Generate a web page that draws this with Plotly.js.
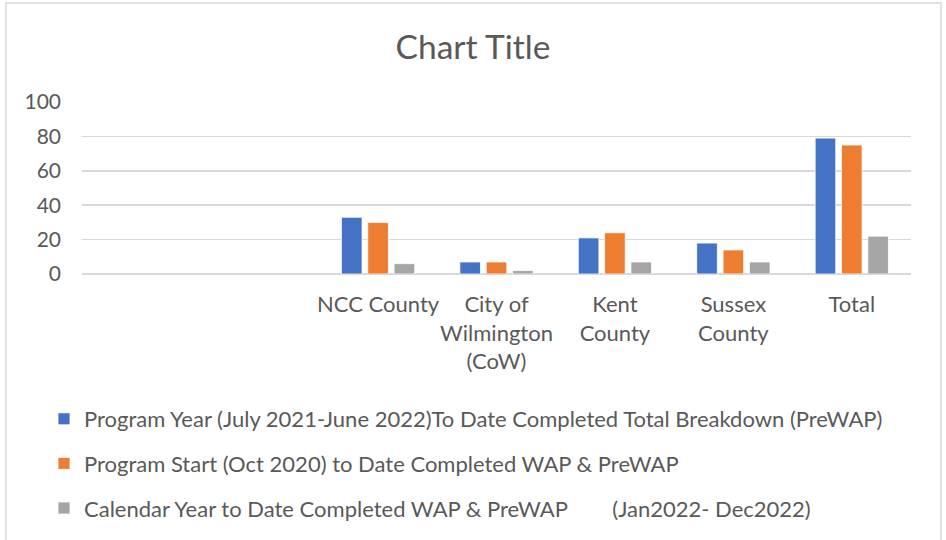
<!DOCTYPE html>
<html>
<head>
<meta charset="utf-8">
<script src="https://cdn.plot.ly/plotly-3.0.1.min.js"></script>
<style>html,body{margin:0;padding:0;background:#fff;}#chart{width:946px;height:540px;}</style>
</head>
<body>
<div id="chart"></div>
<script>
const categories = ["NCC County", "City of<br>Wilmington<br>(CoW)", "Kent<br>County", "Sussex<br>County", "Total"];
const seriesNames = [
  "Program Year (July 2021-June 2022)To Date Completed Total Breakdown (PreWAP)",
  "Program Start (Oct 2020) to Date Completed WAP & PreWAP",
  "Calendar Year to Date Completed WAP & PreWAP        (Jan2022- Dec2022)"
];
const programYear = [33, 7, 21, 18, 79];
const programStart = [30, 7, 24, 14, 75];
const calendarYear = [6, 2, 7, 7, 22];
const colors = ["#4472C4", "#ED7D31", "#A5A5A5"];
const yTicks = [0, 20, 40, 60, 80, 100];

const font = "Lato, 'Open Sans', sans-serif";
const textColor = "#595959";
const seriesValues = [programYear, programStart, calendarYear];

const traces = seriesValues.map((vals, i) => ({
  type: "bar",
  name: seriesNames[i],
  x: categories,
  y: vals,
  marker: {color: colors[i], line: {color: "#ffffff", width: 0.8}},
  legendgroup: "g" + i,
  hoverinfo: "x+y"
}));

const W = 946, H = 540;
const m = {l: 82, r: 35, t: 102, b: 266, autoexpand: false};
const pw = W - m.l - m.r, ph = H - m.t - m.b;

const layout = {
  width: W, height: H,
  margin: m,
  paper_bgcolor: "#ffffff",
  plot_bgcolor: "#ffffff",
  font: {family: font, color: textColor, size: 21},
  title: {text: "Chart Title", font: {family: font, size: 33.5, color: textColor}, x: 0.5, xanchor: "center", xref: "container", y: 1 - 47/H, yanchor: "middle", yref: "container", automargin: false},
  barmode: "group",
  bargap: 0.333,
  bargroupgap: 0.217,
  xaxis: {
    type: "category",
    range: [-2.5, 4.5],
    showgrid: false,
    zeroline: false,
    showline: false,
    ticks: "",
    tickangle: 0,
    automargin: false,
    tickfont: {family: font, size: 22, color: textColor},
    ticklabelstandoff: 15,
    fixedrange: true
  },
  yaxis: {
    range: [0, 100],
    tickvals: yTicks,
    ticktext: yTicks.map(String),
    showgrid: true,
    gridcolor: "#d9d9d9",
    gridwidth: 1.5,
    zeroline: true,
    zerolinecolor: "#d9d9d9",
    zerolinewidth: 1.5,
    showline: false,
    ticks: "",
    automargin: false,
    tickfont: {family: font, size: 21, color: textColor},
    ticklabelstandoff: 20,
    fixedrange: true
  },
  showlegend: true,
  legend: {
    orientation: "v",
    xref: "container", yref: "container",
    x: 44/W, xanchor: "left",
    y: 1 - 398/H, yanchor: "top",
    font: {family: font, size: 22, color: textColor},
    tracegroupgap: 13,
    traceorder: "grouped",
    bgcolor: "rgba(0,0,0,0)"
  },
  shapes: [{
    type: "rect", xref: "paper", yref: "paper",
    x0: (6 - m.l)/pw, x1: (941 - m.l)/pw,
    y0: (H - m.b - 560)/ph, y1: (H - m.b - 3)/ph,
    line: {color: "#d9d9d9", width: 1.5},
    fillcolor: "rgba(0,0,0,0)",
    layer: "below"
  }]
};

Plotly.newPlot("chart", traces, layout, {displayModeBar: false, staticPlot: true});
</script>
</body>
</html>
